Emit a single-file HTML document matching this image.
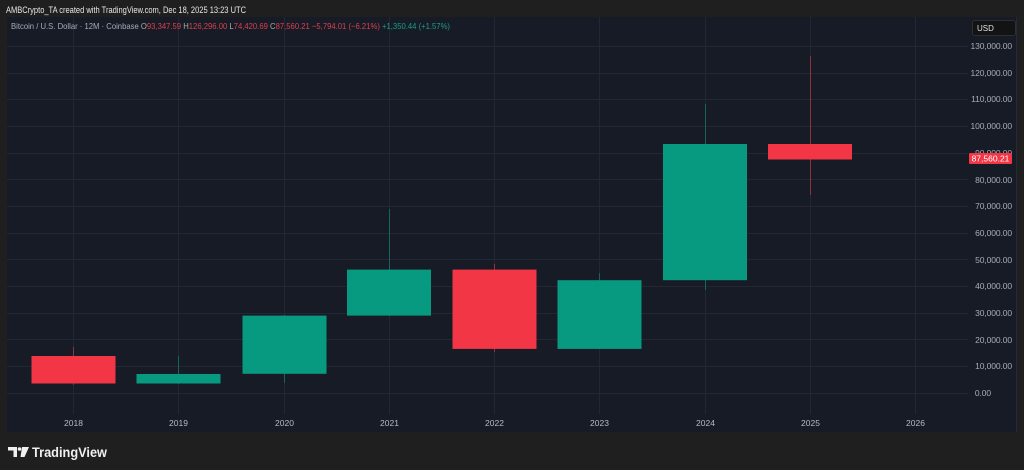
<!DOCTYPE html>
<html>
<head>
<meta charset="utf-8">
<style>
html,body{margin:0;padding:0;background:#1f1f1f;}
body{width:1024px;height:470px;overflow:hidden;position:relative;font-family:"Liberation Sans",sans-serif;}
svg{position:absolute;left:0;top:0;}
</style>
</head>
<body>
<svg width="1024" height="470" viewBox="0 0 1024 470" xmlns="http://www.w3.org/2000/svg" font-family="Liberation Sans, sans-serif">
  <rect x="0" y="0" width="1024" height="470" fill="#1f1f1f"/>
  <!-- header -->
  <text x="6" y="13" font-size="9" fill="#e6e6e6" textLength="240" lengthAdjust="spacingAndGlyphs">AMBCrypto_TA created with TradingView.com, Dec 18, 2025 13:23 UTC</text>
  <!-- chart panel -->
  <rect x="7" y="17" width="1010" height="415" fill="#171b26"/>
  <rect x="1016" y="17" width="1" height="415" fill="#262a35"/>
  <!-- horizontal grid -->
  <g stroke="#232734" stroke-width="1">
    <line x1="7" x2="968" y1="46.5" y2="46.5"/>
    <line x1="7" x2="968" y1="73.5" y2="73.5"/>
    <line x1="7" x2="968" y1="99.5" y2="99.5"/>
    <line x1="7" x2="968" y1="126.5" y2="126.5"/>
    <line x1="7" x2="968" y1="153.5" y2="153.5"/>
    <line x1="7" x2="968" y1="179.5" y2="179.5"/>
    <line x1="7" x2="968" y1="206.5" y2="206.5"/>
    <line x1="7" x2="968" y1="233.5" y2="233.5"/>
    <line x1="7" x2="968" y1="259.5" y2="259.5"/>
    <line x1="7" x2="968" y1="286.5" y2="286.5"/>
    <line x1="7" x2="968" y1="313.5" y2="313.5"/>
    <line x1="7" x2="968" y1="339.5" y2="339.5"/>
    <line x1="7" x2="968" y1="366.5" y2="366.5"/>
    <line x1="7" x2="968" y1="393.5" y2="393.5"/>
  </g>
  <!-- vertical grid -->
  <g stroke="#232734" stroke-width="1">
    <line x1="73.5" x2="73.5" y1="17" y2="414"/>
    <line x1="178.5" x2="178.5" y1="17" y2="414"/>
    <line x1="284.5" x2="284.5" y1="17" y2="414"/>
    <line x1="389.5" x2="389.5" y1="17" y2="414"/>
    <line x1="494.5" x2="494.5" y1="17" y2="414"/>
    <line x1="599.5" x2="599.5" y1="17" y2="414"/>
    <line x1="705.5" x2="705.5" y1="17" y2="414"/>
    <line x1="810.5" x2="810.5" y1="17" y2="414"/>
    <line x1="915.5" x2="915.5" y1="17" y2="414"/>
  </g>
  <!-- legend line -->
  <text x="11" y="29" font-size="8.5" textLength="439" lengthAdjust="spacingAndGlyphs">
    <tspan fill="#a9acb5">Bitcoin / U.S. Dollar · 12M · Coinbase </tspan><tspan fill="#a9acb5"> O</tspan><tspan fill="#d9404d">93,347.59</tspan><tspan fill="#a9acb5">  H</tspan><tspan fill="#d9404d">126,296.00</tspan><tspan fill="#a9acb5">  L</tspan><tspan fill="#d9404d">74,420.69</tspan><tspan fill="#a9acb5">  C</tspan><tspan fill="#d9404d">87,560.21  −5,794.01 (−6.21%)</tspan><tspan fill="#1a9e85">  +1,350.44 (+1.57%)</tspan>
  </text>
  <!-- wicks -->
  <g stroke-width="1">
    <line x1="73.5" x2="73.5" y1="347" y2="385" stroke="#f23645" stroke-opacity="0.55"/>
    <line x1="178.5" x2="178.5" y1="356" y2="384" stroke="#089981" stroke-opacity="0.55"/>
    <line x1="284.5" x2="284.5" y1="315" y2="383" stroke="#089981" stroke-opacity="0.55"/>
    <line x1="389.5" x2="389.5" y1="209" y2="316" stroke="#089981" stroke-opacity="0.55"/>
    <line x1="494.5" x2="494.5" y1="264" y2="352" stroke="#f23645" stroke-opacity="0.55"/>
    <line x1="599.5" x2="599.5" y1="273" y2="349" stroke="#089981" stroke-opacity="0.55"/>
    <line x1="705.5" x2="705.5" y1="104" y2="290" stroke="#089981" stroke-opacity="0.55"/>
    <line x1="810.5" x2="810.5" y1="56" y2="195" stroke="#f23645" stroke-opacity="0.55"/>
  </g>
  <!-- bodies -->
  <rect x="31.5" y="356" width="84" height="27.5" fill="#f23645"/>
  <rect x="136.5" y="374" width="84" height="9.5" fill="#089981"/>
  <rect x="242.5" y="315.6" width="84" height="58.2" fill="#089981"/>
  <rect x="347" y="269.6" width="84" height="46" fill="#089981"/>
  <rect x="452.5" y="269.6" width="84" height="79.3" fill="#f23645"/>
  <rect x="557.5" y="280.2" width="84" height="68.7" fill="#089981"/>
  <rect x="663" y="144" width="84" height="136.2" fill="#089981"/>
  <rect x="768" y="144" width="84" height="15.5" fill="#f23645"/>
  <!-- price axis labels -->
  <g font-size="8.5" fill="#a9acb5" text-anchor="end" letter-spacing="-0.1">
    <text x="1012" y="49">130,000.00</text>
    <text x="1012" y="76">120,000.00</text>
    <text x="1012" y="102">110,000.00</text>
    <text x="1012" y="129">100,000.00</text>
    <text x="1012" y="156">90,000.00</text>
    <text x="1012" y="183">80,000.00</text>
    <text x="1012" y="209">70,000.00</text>
    <text x="1012" y="236">60,000.00</text>
    <text x="1012" y="263">50,000.00</text>
    <text x="1012" y="289">40,000.00</text>
    <text x="1012" y="316">30,000.00</text>
    <text x="1012" y="343">20,000.00</text>
    <text x="1012" y="369">10,000.00</text>
    <text x="991" y="396">0.00</text>
  </g>
  <!-- USD box -->
  <rect x="972.5" y="20.5" width="43" height="15" rx="2.5" fill="#131313" stroke="#2c2f36"/>
  <text x="977" y="31" font-size="8" fill="#e0e0e0">USD</text>
  <!-- last price label -->
  <rect x="969" y="153" width="43" height="11" rx="1" fill="#f23645"/>
  <text x="990.5" y="161.5" font-size="8.5" fill="#ffffff" text-anchor="middle">87,560.21</text>
  <!-- time axis labels -->
  <g font-size="8.5" fill="#b8bac0" text-anchor="middle">
    <text x="73.5" y="426">2018</text>
    <text x="178.5" y="426">2019</text>
    <text x="284.5" y="426">2020</text>
    <text x="389.5" y="426">2021</text>
    <text x="494.5" y="426">2022</text>
    <text x="599.5" y="426">2023</text>
    <text x="705.5" y="426">2024</text>
    <text x="810.5" y="426">2025</text>
    <text x="915.5" y="426">2026</text>
  </g>
  <!-- TradingView logo -->
  <g fill="#f0f0f0">
    <path d="M8 447 h9 v10 h-3.5 v-6.5 h-5.5 z"/>
    <circle cx="19.5" cy="449" r="1.8"/>
    <path d="M22 447 h7 l-4.5 10 h-4 z"/>
  </g>
  <text x="32" y="457" font-size="14" font-weight="bold" fill="#f0f0f0" textLength="75" lengthAdjust="spacingAndGlyphs">TradingView</text>
</svg>
</body>
</html>
